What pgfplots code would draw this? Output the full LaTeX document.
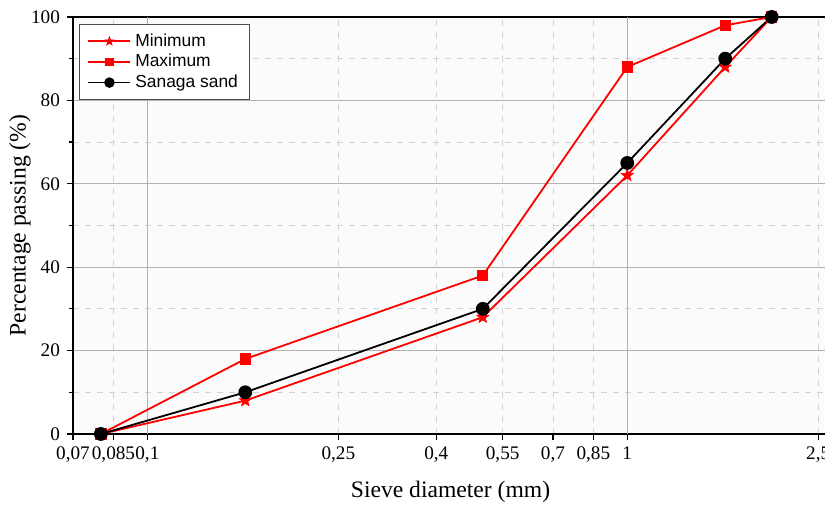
\documentclass[border=0pt]{standalone}
\usepackage{pgfplots}
\pgfplotsset{compat=1.18}
\usetikzlibrary{plotmarks}
\usepackage{fontspec}
\setmainfont{Liberation Serif}
\newfontfamily\legendfont{Liberation Sans}

% filled five-pointed star mark
\pgfdeclareplotmark{fstar}{%
  \pgfpathmoveto{\pgfqpointpolar{90}{\pgfplotmarksize}}%
  \pgfpathlineto{\pgfqpointpolar{126}{0.42\pgfplotmarksize}}%
  \pgfpathlineto{\pgfqpointpolar{162}{\pgfplotmarksize}}%
  \pgfpathlineto{\pgfqpointpolar{198}{0.42\pgfplotmarksize}}%
  \pgfpathlineto{\pgfqpointpolar{234}{\pgfplotmarksize}}%
  \pgfpathlineto{\pgfqpointpolar{270}{0.42\pgfplotmarksize}}%
  \pgfpathlineto{\pgfqpointpolar{306}{\pgfplotmarksize}}%
  \pgfpathlineto{\pgfqpointpolar{342}{0.42\pgfplotmarksize}}%
  \pgfpathlineto{\pgfqpointpolar{18}{\pgfplotmarksize}}%
  \pgfpathlineto{\pgfqpointpolar{54}{0.42\pgfplotmarksize}}%
  \pgfpathclose
  \pgfusepathqfillstroke
}

\begin{document}
\begin{tikzpicture}
\begin{axis}[
  at={(0,0)}, anchor=south west,
  scale only axis, width=377.5pt, height=208.5pt,
  xmode=log, xmin=0.07, xmax=2.62, ymin=0, ymax=100,
  axis background/.style={fill=black!1.5},
  axis line style={black, line width=0.8pt},
  tick style={black, line width=0.6pt},
  tick align=outside, xtick pos=lower, ytick pos=left,
  major tick length=3pt, minor tick length=2pt,
  font=\fontsize{9.6}{11}\selectfont,
  /pgf/number format/assume math mode=true,
  xtick={0.07,0.085,0.25,0.4,0.55,0.7,0.85,2.5},
  xticklabels={0{,}07,0{,}085,0{,}25,0{,}4,0{,}55,0{,}7,0{,}85,2{,}5},
  extra x ticks={0.1,1},
  extra x tick labels={0{,}1,1},
  extra x tick style={grid=major},
  minor xtick={0.085,0.25,0.4,0.55,0.7,0.85,2.5},
  xminorgrids=true, xmajorgrids=false,
  ytick={0,20,40,60,80,100},
  minor ytick={10,30,50,70,90},
  ymajorgrids=true, yminorgrids=true,
  major grid style={gray!60, line width=0.5pt},
  minor grid style={gray!35, dashed, line width=0.4pt},
  xlabel={Sieve diameter (mm)},
  ylabel={Percentage passing (\%)},
  every axis x label/.style={at={(axis description cs:0.5,-0.139)}, anchor=center, font=\fontsize{11.8}{13}\selectfont},
  every axis y label/.style={at={(axis description cs:-0.0702,0.5)}, anchor=center, rotate=90, font=\fontsize{11.8}{13}\selectfont},
  legend style={at={(0.008,0.983)}, anchor=north west,
    font=\legendfont\fontsize{8.7}{10}\selectfont,
    draw=black!70, line width=0.5pt, fill=white,
    inner xsep=4pt, inner ysep=2.5pt, row sep=-1.5pt, cells={anchor=west},
    nodes={inner xsep=2pt}},
  legend image code/.code={\draw[mark repeat=2,mark phase=2,every mark/.append style={scale=0.72}] plot coordinates {(0pt,0pt) (10.5pt,0pt) (21pt,0pt)};},
]
\addplot[red, line width=0.9pt, mark=fstar, mark size=3.2pt, mark options={solid, fill=red, line width=0.3pt}]
  coordinates {(0.08,0) (0.16,8) (0.5,28) (1,62) (1.6,88) (2,100)};
\addlegendentry{Minimum}
\addplot[red, line width=0.9pt, mark=square*, mark size=2.4pt, mark options={solid, fill=red}]
  coordinates {(0.08,0) (0.16,18) (0.5,38) (1,88) (1.6,98) (2,100)};
\addlegendentry{Maximum}
\addplot[black, line width=0.9pt, mark=*, mark size=3pt, mark options={solid, fill=black}]
  coordinates {(0.08,0) (0.16,10) (0.5,30) (1,65) (1.6,90) (2,100)};
\addlegendentry{Sanaga sand}
\end{axis}
\pgfresetboundingbox
\path[use as bounding box] (-36.5pt,-36pt) rectangle (376pt,217pt);
\end{tikzpicture}
\end{document}
